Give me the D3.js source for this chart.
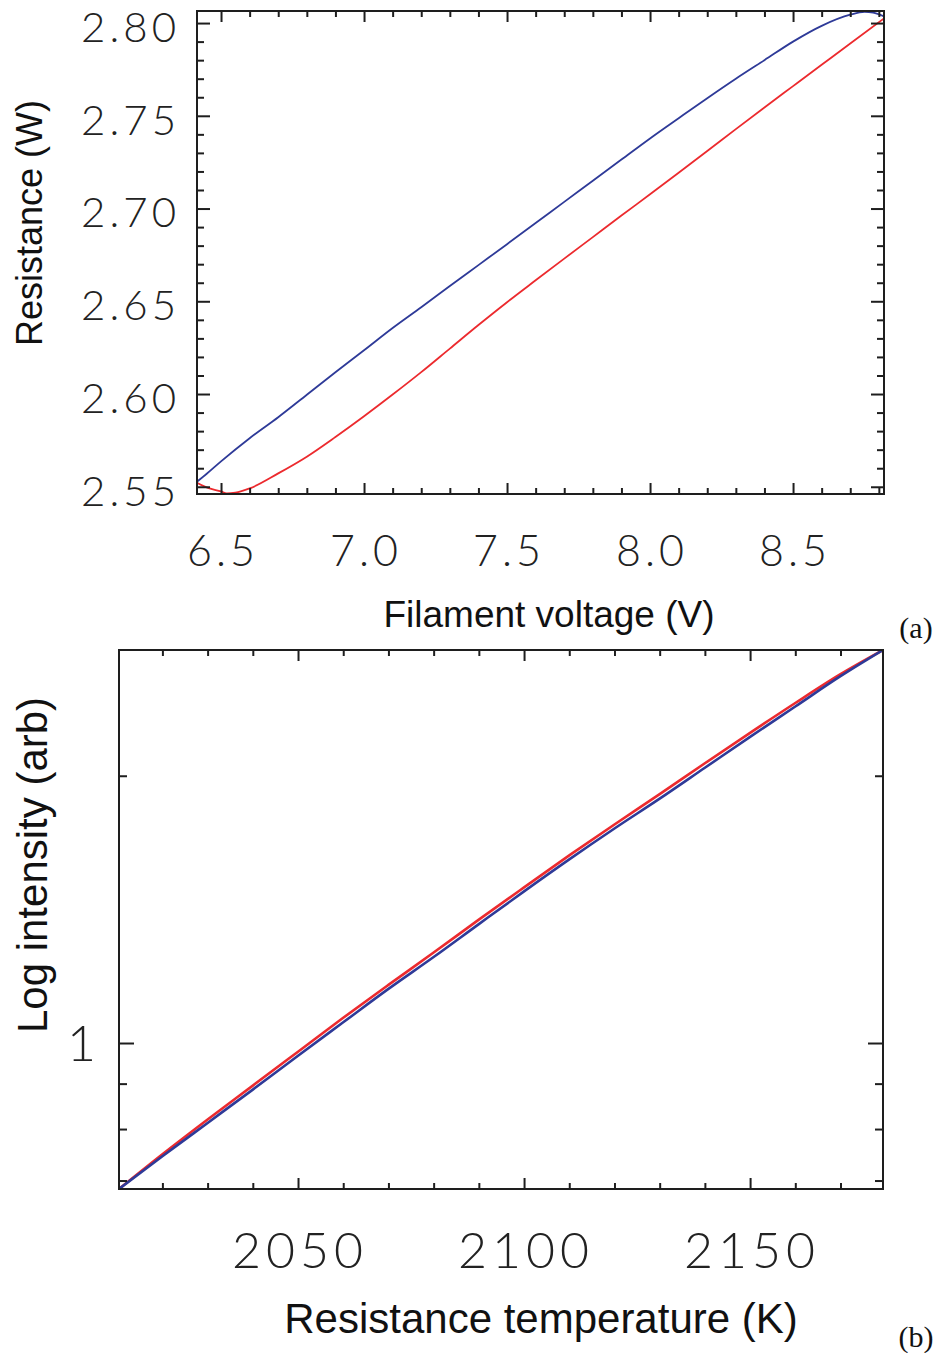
<!DOCTYPE html>
<html>
<head>
<meta charset="utf-8">
<script src="https://cdn.jsdelivr.net/npm/d3@7/dist/d3.min.js"></script>
<style>
  html, body { margin: 0; padding: 0; background: #fff; }
  svg { display: block; }
  .tick-label { font-family: "Lato", "Roboto", "Liberation Sans", sans-serif; font-weight: 300; fill: #222; }
  .title { font-family: "Liberation Sans", Arial, sans-serif; fill: #111; }
  .panel-tag { font-family: "Liberation Serif", "DejaVu Serif", serif; fill: #111; }
</style>
</head>
<body>
<svg id="fig" width="938" height="1353"></svg>
<script>
// Panel (a): filament resistance against filament voltage
const voltageBlue = [6.416, 6.45, 6.50, 6.60, 6.70, 6.80, 6.90, 7.00, 7.10, 7.20, 7.30, 7.40, 7.50, 7.60, 7.70, 7.80, 7.90, 8.00, 8.10, 8.20, 8.30, 8.40, 8.50, 8.60, 8.70, 8.75, 8.78, 8.818];
const resistanceBlue = [2.5527, 2.5570, 2.5637, 2.5762, 2.5875, 2.5996, 2.6117, 2.6236, 2.6356, 2.6468, 2.6582, 2.6695, 2.6808, 2.6922, 2.7036, 2.7150, 2.7264, 2.7378, 2.7487, 2.7595, 2.7700, 2.7800, 2.7900, 2.7985, 2.8045, 2.8060, 2.8056, 2.8036];
const voltageRed = [6.416, 6.46, 6.50, 6.52, 6.55, 6.60, 6.70, 6.80, 6.90, 7.00, 7.10, 7.20, 7.30, 7.40, 7.50, 7.60, 7.70, 7.80, 7.90, 8.00, 8.10, 8.20, 8.30, 8.40, 8.50, 8.60, 8.70, 8.818];
const resistanceRed = [2.5522, 2.5491, 2.5475, 2.5464, 2.5468, 2.5491, 2.5572, 2.5662, 2.5768, 2.5880, 2.5997, 2.6118, 2.6245, 2.6372, 2.6495, 2.6613, 2.6730, 2.6846, 2.6962, 2.7077, 2.7193, 2.7310, 2.7428, 2.7545, 2.7660, 2.7775, 2.7890, 2.8025];
const voltageTicks = [6.5, 7.0, 7.5, 8.0, 8.5];
const voltageTickLabels = ["6.5", "7.0", "7.5", "8.0", "8.5"];
const resistanceTicks = [2.55, 2.60, 2.65, 2.70, 2.75, 2.80];
const resistanceTickLabels = ["2.55", "2.60", "2.65", "2.70", "2.75", "2.80"];

// Panel (b): log intensity against resistance temperature
const temperature = [2010.4, 2020, 2030, 2040, 2050, 2060, 2070, 2080, 2090, 2100, 2110, 2120, 2130, 2140, 2150, 2160, 2170, 2179.4];
const intensityBlue = [0.6848, 0.7454, 0.8128, 0.8862, 0.9676, 1.0552, 1.1506, 1.2497, 1.3612, 1.4818, 1.6099, 1.7443, 1.8846, 2.0418, 2.2124, 2.3934, 2.5892, 2.7712];
const intensityRed = [0.6848, 0.7493, 0.8201, 0.8954, 0.9777, 1.0676, 1.1626, 1.2644, 1.3772, 1.4973, 1.6266, 1.7625, 1.9067, 2.0658, 2.2355, 2.4154, 2.6027, 2.7712];
const temperatureTicks = [2050, 2100, 2150];
const temperatureTickLabels = ["2050", "2100", "2150"];
const intensityTicks = [1];
const intensityTickLabels = ["1"];
const intensityMinorTicks = [0.7, 0.8, 0.9, 2];

const BLUE = "#2e3a98";
const RED = "#ec2a2e";
const INK = "#1e1e1e";

const svg = d3.select("#fig");

function zip(xs, ys) { return xs.map((x, i) => [x, ys[i]]); }

// ---------- panel (a) ----------
const xa = d3.scaleLinear().domain([6.416, 8.818]).range([197, 884]);
const ya = d3.scaleLinear().domain([2.5461, 2.8065]).range([494, 11]);
const ga = svg.append("g");

const defs = svg.append("defs");
defs.append("clipPath").attr("id", "clipA")
  .append("rect").attr("x", 197).attr("y", 11).attr("width", 687).attr("height", 483);
defs.append("clipPath").attr("id", "clipB")
  .append("rect").attr("x", 119).attr("y", 650).attr("width", 764).attr("height", 539);

const xMinorA = d3.range(6.5, 8.81, 0.1).map(v => +v.toFixed(2));
const yMinorA = d3.range(2.55, 2.805, 0.01).map(v => +v.toFixed(3));

// Box frame with inward ticks on all four sides
function frameTicks(g, x, y, xMaj, xMin, yMaj, yMin, lens) {
  const [x0, x1] = x.range();
  const [y0, y1] = y.range();
  g.append("g").attr("transform", `translate(0,${y0})`)
    .call(d3.axisBottom(x).tickValues(xMin).tickSize(-lens.xmin).tickFormat(""));
  g.append("g").attr("transform", `translate(0,${y0})`)
    .call(d3.axisBottom(x).tickValues(xMaj).tickSize(-lens.xmaj).tickFormat(""));
  g.append("g").attr("transform", `translate(0,${y1})`)
    .call(d3.axisTop(x).tickValues(xMin).tickSize(-lens.xmin).tickFormat(""));
  g.append("g").attr("transform", `translate(0,${y1})`)
    .call(d3.axisTop(x).tickValues(xMaj).tickSize(-lens.xmaj).tickFormat(""));
  g.append("g").attr("transform", `translate(${x0},0)`)
    .call(d3.axisLeft(y).tickValues(yMin).tickSize(-lens.ymin).tickFormat(""));
  g.append("g").attr("transform", `translate(${x0},0)`)
    .call(d3.axisLeft(y).tickValues(yMaj).tickSize(-lens.ymaj).tickFormat(""));
  g.append("g").attr("transform", `translate(${x1},0)`)
    .call(d3.axisRight(y).tickValues(yMin).tickSize(-lens.ymin).tickFormat(""));
  g.append("g").attr("transform", `translate(${x1},0)`)
    .call(d3.axisRight(y).tickValues(yMaj).tickSize(-lens.ymaj).tickFormat(""));
  g.selectAll(".domain").remove();
  g.selectAll(".tick line").attr("stroke", INK).attr("stroke-width", 2);
  g.append("rect").attr("x", x0).attr("y", y1).attr("width", x1 - x0).attr("height", y0 - y1)
    .attr("fill", "none").attr("stroke", INK).attr("stroke-width", 2);
}

const lineA = d3.line().x(d => xa(d[0])).y(d => ya(d[1])).curve(d3.curveMonotoneX);
const curvesA = ga.append("g").attr("clip-path", "url(#clipA)");
curvesA.append("path").datum(zip(voltageRed, resistanceRed))
  .attr("d", lineA).attr("fill", "none").attr("stroke", RED).attr("stroke-width", 1.8);
curvesA.append("path").datum(zip(voltageBlue, resistanceBlue))
  .attr("d", lineA).attr("fill", "none").attr("stroke", BLUE).attr("stroke-width", 1.8);

frameTicks(ga.append("g"), xa, ya,
  voltageTicks, xMinorA.filter(v => !voltageTicks.includes(v)),
  resistanceTicks, yMinorA.filter(v => !resistanceTicks.some(t => Math.abs(t - v) < 1e-6)),
  { xmaj: 11, xmin: 6, ymaj: 13, ymin: 7 });

ga.selectAll(".ylab").data(resistanceTicks).enter().append("text")
  .attr("class", "tick-label").attr("x", 180).attr("y", d => ya(d))
  .attr("dy", "0.45em").attr("text-anchor", "end")
  .style("font-size", "42px").style("letter-spacing", "4px")
  .text((d, i) => resistanceTickLabels[i]);
ga.selectAll(".xlab").data(voltageTicks).enter().append("text")
  .attr("class", "tick-label").attr("x", d => xa(d) + 2).attr("y", 566)
  .attr("text-anchor", "middle")
  .style("font-size", "43px").style("letter-spacing", "4px")
  .text((d, i) => voltageTickLabels[i]);

ga.append("text").attr("class", "title")
  .attr("transform", "translate(42,223) rotate(-90)")
  .attr("text-anchor", "middle").style("font-size", "36px")
  .text("Resistance (W)");
ga.append("text").attr("class", "title")
  .attr("x", 549).attr("y", 627).attr("text-anchor", "middle").style("font-size", "37px")
  .text("Filament voltage (V)");
svg.append("text").attr("class", "panel-tag")
  .attr("x", 916).attr("y", 638).attr("text-anchor", "middle").style("font-size", "30px")
  .text("(a)");

// ---------- panel (b) ----------
const xb = d3.scaleLinear().domain([2010.4, 2179.4]).range([119, 883]);
const yb = d3.scaleLog().domain([0.6848, 2.7712]).range([1189, 650]);
const gb = svg.append("g");

const lineB = d3.line().x(d => xb(d[0])).y(d => yb(d[1])).curve(d3.curveMonotoneX);
const curvesB = gb.append("g").attr("clip-path", "url(#clipB)");
curvesB.append("path").datum(zip(temperature, intensityRed))
  .attr("d", lineB).attr("fill", "none").attr("stroke", RED).attr("stroke-width", 2.6);
curvesB.append("path").datum(zip(temperature, intensityBlue))
  .attr("d", lineB).attr("fill", "none").attr("stroke", BLUE).attr("stroke-width", 2.6);

const xMinorB = d3.range(2020, 2180, 10).filter(v => !temperatureTicks.includes(v));
frameTicks(gb.append("g"), xb, yb,
  temperatureTicks, xMinorB, intensityTicks, intensityMinorTicks,
  { xmaj: 11, xmin: 6, ymaj: 15, ymin: 8 });

gb.selectAll(".xlab").data(temperatureTicks).enter().append("text")
  .attr("class", "tick-label").attr("x", d => xb(d) + 2).attr("y", 1268)
  .attr("text-anchor", "middle")
  .style("font-size", "50px").style("letter-spacing", "5px")
  .text((d, i) => temperatureTickLabels[i]);
gb.selectAll(".ylab").data(intensityTicks).enter().append("text")
  .attr("class", "tick-label").attr("x", 96).attr("y", d => yb(d))
  .attr("dy", "0.36em").attr("text-anchor", "end")
  .style("font-size", "50px")
  .text((d, i) => intensityTickLabels[i]);

gb.append("text").attr("class", "title")
  .attr("transform", "translate(47,865) rotate(-90)")
  .attr("text-anchor", "middle").style("font-size", "42px")
  .text("Log intensity (arb)");
gb.append("text").attr("class", "title")
  .attr("x", 541).attr("y", 1333).attr("text-anchor", "middle").style("font-size", "42px")
  .text("Resistance temperature (K)");
svg.append("text").attr("class", "panel-tag")
  .attr("x", 916).attr("y", 1347).attr("text-anchor", "middle").style("font-size", "30px")
  .text("(b)");
</script>
</body>
</html>
